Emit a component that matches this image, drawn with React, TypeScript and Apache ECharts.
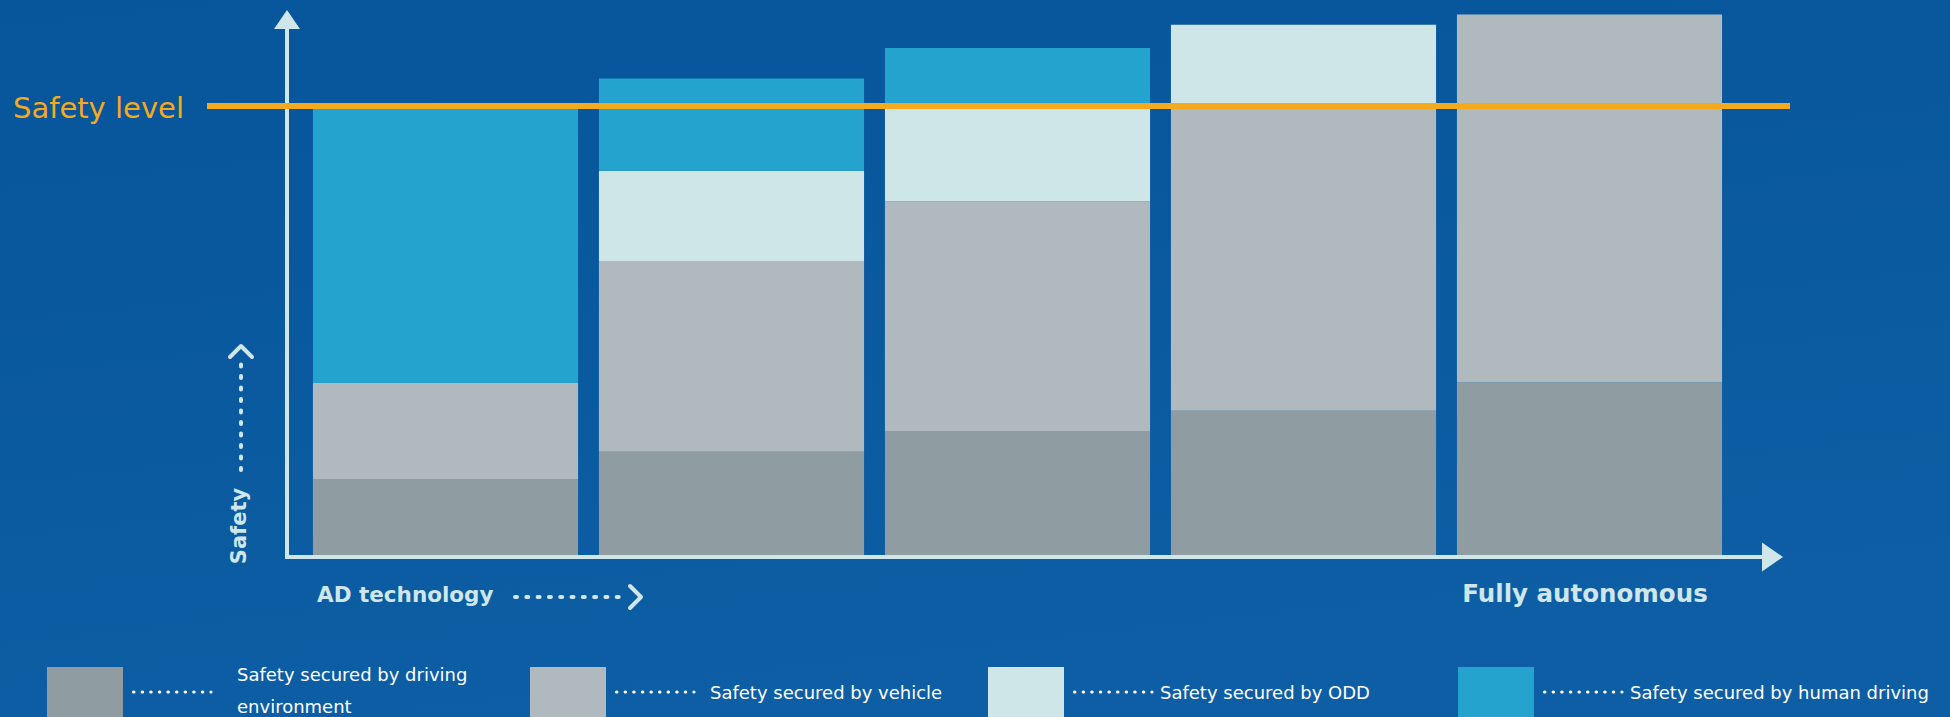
import React, { useEffect, useRef } from 'react';
import * as echarts from 'echarts';

// ---- data ----
const STAGES = ['Stage 1', 'Stage 2', 'Stage 3', 'Stage 4', 'Stage 5'];
const SERIES_NAMES = [
  'Safety secured by driving environment',
  'Safety secured by vehicle',
  'Safety secured by ODD',
  'Safety secured by human driving',
];
const ENVIRONMENT = [16.9, 23.0, 27.6, 32.1, 38.4];
const VEHICLE = [21.4, 42.5, 51.2, 67.9, 82.0];
const ODD = [0, 20.1, 21.2, 18.1, 0];
const HUMAN = [61.6, 20.5, 12.9, 0, 0];
const SAFETY_LEVEL = 100;
const SAFETY_LABEL = 'Safety level';
const Y_AXIS_TITLE = 'Safety';
const X_AXIS_START = 'AD technology';
const X_AXIS_END = 'Fully autonomous';

// ---- styles ----
const COLORS = ['#8f9ca1', '#afb9be', '#cfe6e9', '#24a3ce'];
const AXIS_COLOR = '#cfe6eb';
const SAFETY_COLOR = '#f5a91c';
const FONT = '"DejaVu Sans", "Noto Sans", sans-serif';

export default function App() {
  const ref = useRef<HTMLDivElement>(null);

  useEffect(() => {
    if (!ref.current) return;
    const chart = echarts.init(ref.current, null, { renderer: 'svg' });
    const values = [ENVIRONMENT, VEHICLE, ODD, HUMAN];

    chart.setOption({
      animation: false,
      backgroundColor: {
        type: 'linear', x: 0, y: 0, x2: 0.3, y2: 1,
        colorStops: [
          { offset: 0, color: '#07559b' },
          { offset: 1, color: '#0d5ea4' },
        ],
      },
      grid: { left: 302.5, width: 1430, bottom: 162, height: 547.8, outerBoundsMode: 'none' },
      xAxis: {
        type: 'category',
        data: STAGES,
        axisLine: { show: false },
        axisTick: { show: false },
        axisLabel: { show: false },
      },
      yAxis: {
        type: 'value',
        min: 0,
        max: 122,
        axisLine: { show: false },
        axisTick: { show: false },
        axisLabel: { show: false },
        splitLine: { show: false },
      },
      series: values.map((v, i) => ({
        name: SERIES_NAMES[i],
        type: 'bar',
        stack: 'safety',
        data: v,
        barCategoryGap: '7.3%',
        itemStyle: { color: COLORS[i] },
        emphasis: { disabled: true },
      })),
    });

    const yLine = chart.convertToPixel({ yAxisIndex: 0 }, SAFETY_LEVEL) as number;
    const yBase = chart.convertToPixel({ yAxisIndex: 0 }, 0) as number;

    const dotted = (x1: number, y1: number, x2: number, y2: number, w: number, dash: number[], color: string) => ({
      type: 'line',
      z: 50,
      shape: { x1, y1, x2, y2 },
      style: { stroke: color, lineWidth: w, lineDash: dash, lineCap: 'round' },
    });

    const legendX = [47, 530, 988, 1458];
    const legendW = [240, 260, 260, 330];
    const legendItems: any[] = [];
    SERIES_NAMES.forEach((name, i) => {
      const x0 = legendX[i];
      legendItems.push({
        type: 'rect', z: 50,
        shape: { x: x0, y: 667, width: 76, height: 56 },
        style: { fill: COLORS[i] },
      });
      legendItems.push(dotted(x0 + 86.5, 692, x0 + 164, 692, 3, [0.5, 8.1], '#ffffff'));
      legendItems.push({
        type: 'text', z: 50,
        x: x0 + (i === 0 ? 190 : i === 1 ? 180 : 172),
        y: i === 0 ? 690 : 692,
        style: {
          text: name,
          fill: '#ffffff',
          fontSize: 18,
          fontFamily: FONT,
          align: 'left',
          verticalAlign: 'middle',
          width: legendW[i],
          overflow: 'break',
          lineHeight: 32,
        },
      });
    });

    chart.setOption({
      graphic: [
        // vertical axis
        { type: 'line', z: 40, shape: { x1: 287, y1: yBase + 4, x2: 287, y2: 27 }, style: { stroke: AXIS_COLOR, lineWidth: 4 } },
        { type: 'polygon', z: 40, shape: { points: [[274, 29], [300, 29], [287, 10]] }, style: { fill: AXIS_COLOR } },
        // horizontal axis
        { type: 'line', z: 40, shape: { x1: 285, y1: yBase + 2, x2: 1764, y2: yBase + 2 }, style: { stroke: AXIS_COLOR, lineWidth: 4 } },
        { type: 'polygon', z: 40, shape: { points: [[1762, yBase - 12.5], [1762, yBase + 16.5], [1783, yBase + 2]] }, style: { fill: AXIS_COLOR } },
        // safety level
        { type: 'line', z: 60, shape: { x1: 207, y1: yLine, x2: 1790, y2: yLine }, style: { stroke: SAFETY_COLOR, lineWidth: 6 } },
        {
          type: 'text', z: 60, x: 13, y: yLine + 2,
          style: { text: SAFETY_LABEL, fill: SAFETY_COLOR, fontSize: 29, fontFamily: FONT, align: 'left', verticalAlign: 'middle' },
        },
        // y axis title + dotted arrow
        {
          type: 'text', z: 50, x: 239, y: 526, rotation: Math.PI / 2,
          style: { text: Y_AXIS_TITLE, fill: AXIS_COLOR, fontSize: 21, fontWeight: 'bold', fontFamily: FONT, align: 'center', verticalAlign: 'middle' },
        },
        dotted(241, 470, 241, 362, 4, [2, 9.5], AXIS_COLOR),
        { type: 'polyline', z: 50, shape: { points: [[230, 357], [241, 346], [252, 357]] }, style: { stroke: AXIS_COLOR, lineWidth: 4, fill: null, lineCap: 'round', lineJoin: 'round' } },
        // x axis titles + dotted arrow
        {
          type: 'text', z: 50, x: 317, y: 594,
          style: { text: X_AXIS_START, fill: AXIS_COLOR, fontSize: 21.5, fontWeight: 'bold', fontFamily: FONT, align: 'left', verticalAlign: 'middle' },
        },
        dotted(515, 597, 624, 597, 4, [2, 9.3], AXIS_COLOR),
        { type: 'polyline', z: 50, shape: { points: [[630, 586], [641, 597], [630, 608]] }, style: { stroke: AXIS_COLOR, lineWidth: 4, fill: null, lineCap: 'round', lineJoin: 'round' } },
        {
          type: 'text', z: 50, x: 1585, y: 593,
          style: { text: X_AXIS_END, fill: AXIS_COLOR, fontSize: 24.5, fontWeight: 'bold', fontFamily: FONT, align: 'center', verticalAlign: 'middle' },
        },
        ...legendItems,
      ],
    });

    return () => chart.dispose();
  }, []);

  return <div ref={ref} style={{ position: 'fixed', left: 0, top: 0, width: 1950, height: 717 }} />;
}
